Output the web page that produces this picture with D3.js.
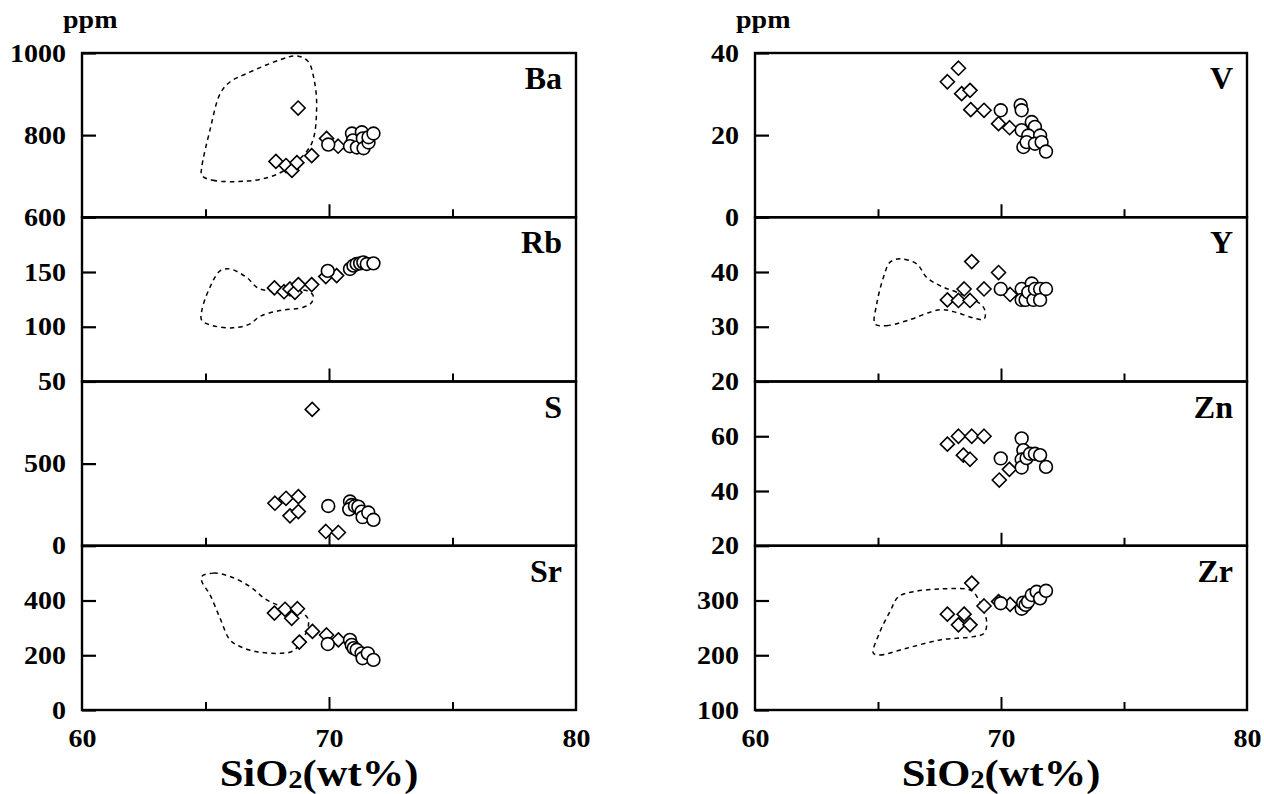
<!DOCTYPE html>
<html><head><meta charset="utf-8">
<script src="https://cdn.jsdelivr.net/npm/d3@7"></script>
<style>
body{margin:0;background:#fff}
text{font-family:"Liberation Serif","Times New Roman",serif;font-weight:bold;fill:#000}
</style>
</head><body>
<svg id="c" width="1264" height="794"></svg>
<script>
// ---------- data (SiO2 wt%, ppm) ----------
const xDomain = [60, 80];
const xMinorTicks = [65, 70, 75];
const xTickLabels = [60, 70, 80];
const xTitle = ["SiO", "2", "(wt%)"];

const panelNames = ["Ba", "Rb", "S", "Sr", "V", "Y", "Zn", "Zr"];
const yDomains = [[600,1000],[50,200],[0,1000],[0,600],[0,40],[20,50],[20,80],[100,400]];
const yTicks = [[600,800,1000],[50,100,150],[0,500],[0,200,400],[0,20,40],[20,30,40],[20,40,60],[100,200,300]];

const baDiamonds = [[68.75,866],[67.85,736],[68.26,726],[68.5,714],[68.7,733],[69.3,750],[69.9,792],[70.37,773]];
const baCircles = [[69.97,777],[70.93,804],[70.97,787],[70.85,773],[71.13,770],[71.33,807],[71.37,792],[71.4,768],[71.6,782],[71.6,795],[71.8,804]];
const baField = [[64.85,702],[65.3,690],[66.67,688],[67.6,698],[68.14,712],[68.6,730],[69.3,780],[69.5,869],[69.4,934],[69.16,979],[68.7,993],[68.0,983],[66.67,950],[66.0,930],[65.6,902],[65.18,812],[64.85,722]];

const rbDiamonds = [[67.79,135.5],[68.18,132],[68.42,134.5],[68.62,131.5],[68.76,138.5],[69.3,138.5],[69.87,145.8],[70.31,146.7]];
const rbCircles = [[69.95,151],[70.85,152.8],[70.99,155.8],[71.12,157.3],[71.26,157.9],[71.39,158.8],[71.53,157.3],[71.8,157.9]];
const rbField = [[64.85,105.7],[65.3,101],[66.13,99],[66.8,102.6],[67.2,109.3],[68.0,114.8],[68.96,117.8],[69.3,122.3],[69.36,128.4],[69.1,133],[67.2,134.5],[66.67,145],[65.99,152.8],[65.59,151],[65.18,136],[64.85,114.8]];

const sDiamonds = [[69.32,830],[67.81,259],[68.26,289],[68.76,299],[68.42,182],[68.76,208],[69.87,87],[70.38,81]];
const sCircles = [[69.97,242],[70.85,269],[70.92,248],[70.82,222],[71.05,242],[71.19,238],[71.32,208],[71.36,174],[71.59,202],[71.8,158]];

const srDiamonds = [[67.79,354],[68.22,368],[68.49,335],[68.72,370],[68.8,248],[69.33,287],[69.9,274],[70.38,256]];
const srCircles = [[69.95,241],[70.85,256],[70.92,238],[71.0,226],[71.12,220],[71.32,207],[71.36,189],[71.57,207],[71.8,183]];
const srField = [[64.85,488],[65.32,500],[65.99,488],[66.8,451],[67.48,402],[68.3,370],[69.1,341],[69.17,311],[68.96,262],[68.55,216],[68.02,207],[67.07,213],[66.4,232],[65.99,256],[65.59,335],[65.18,421],[64.85,470]];

const vDiamonds = [[68.27,36.3],[67.82,33],[68.4,30.1],[68.74,30.9],[68.77,26.2],[69.31,26.05],[69.9,22.8],[70.35,21.8]];
const vCircles = [[69.99,26.05],[70.8,27.3],[70.84,26.05],[71.25,23.2],[71.38,22],[70.84,21.2],[71.11,19.9],[71.59,19.9],[70.91,17.1],[71.04,18.3],[71.38,17.9],[71.65,18.3],[71.83,16.0]];

const yDiamonds = [[68.81,41.9],[69.9,39.9],[68.5,36.9],[69.31,36.9],[67.82,34.9],[68.27,34.8],[68.74,34.8],[70.37,35.9]];
const yCircles = [[69.99,36.9],[70.84,36.9],[71.25,37.9],[70.84,34.9],[71.0,34.9],[71.11,36.3],[71.32,34.9],[71.38,36.9],[71.59,36.9],[71.59,34.9],[71.83,36.9]];
const yField = [[64.88,30.5],[65.35,30.2],[66.17,31.1],[67.52,33.1],[68.2,32.6],[68.87,31.6],[69.31,31.4],[69.35,32.95],[69.15,34.2],[68.2,36.3],[67.52,37.5],[66.98,39.0],[66.57,41.5],[65.89,42.4],[65.49,41.8],[65.22,39.0],[64.95,34.2]];

const znDiamonds = [[67.82,57.1],[68.27,60],[68.81,60],[69.31,60],[68.47,53.1],[68.74,51.6],[70.34,47.9],[69.93,44]];
const znCircles = [[70.84,59.2],[69.99,51.9],[70.91,54.9],[70.84,51.5],[70.84,48.6],[71.04,52],[71.18,53.6],[71.38,53.6],[71.59,53.1],[71.83,48.8]];

const zrDiamonds = [[68.81,331.8],[69.31,290],[67.82,275],[68.5,275],[68.27,255.5],[68.74,255.5],[69.9,298],[70.37,293]];
const zrCircles = [[69.99,295],[70.84,285],[70.9,296],[71.0,292],[71.1,298],[71.25,310],[71.45,316],[71.59,304],[71.83,317.7]];
const zrField = [[64.81,203.7],[65.08,200.6],[66.17,212.9],[67.52,228],[68.87,234],[69.31,240],[69.42,258.6],[69.28,283],[68.87,316],[68.6,321],[67.52,321],[66.43,316],[65.83,307],[65.49,280],[65.08,243]];

const diamondSets = [baDiamonds, rbDiamonds, sDiamonds, srDiamonds, vDiamonds, yDiamonds, znDiamonds, zrDiamonds];
const circleSets = [baCircles, rbCircles, sCircles, srCircles, vCircles, yCircles, znCircles, zrCircles];
const fieldSets = [baField, rbField, null, srField, null, yField, null, zrField];

// ---------- layout ----------
const svg = d3.select("#c");
const colX = [[82, 576], [755, 1247]];
const titleX = [319, 1001];
const top0 = 53, ph = 164.25;
const SX = 1.12; // horizontal stretch of the bold serif labels

panelNames.forEach((name, i) => {
  const col = Math.floor(i / 4), row = i % 4;
  const [x0, x1] = colX[col];
  const y0 = top0 + row * ph, y1 = y0 + ph;
  const x = d3.scaleLinear().domain(xDomain).range([x0, x1]);
  const y = d3.scaleLinear().domain(yDomains[i]).range([y1, y0]);
  const g = svg.append("g");

  if (fieldSets[i]) {
    g.append("path").datum(fieldSets[i])
      .attr("d", d3.line().x(d => x(d[0])).y(d => y(d[1])).curve(d3.curveCatmullRomClosed.alpha(0.5)))
      .attr("fill", "none").attr("stroke", "#000").attr("stroke-width", 1.5)
      .attr("stroke-dasharray", "4.5,4");
  }

  // y axis
  const ya = g.append("g").attr("transform", `translate(${x0},0)`)
    .call(d3.axisLeft(y).tickValues(yTicks[i]).tickSize(-14).tickPadding(16).tickFormat(d3.format("d")));
  ya.select(".domain").remove();
  ya.selectAll("line").attr("stroke", "#000").attr("stroke-width", 2.2);
  ya.selectAll("text").attr("font-size", 25).attr("font-family", null)
    .attr("x", -16 / SX).attr("transform", `scale(${SX},1)`);

  // x ticks (inward, at panel bottom)
  const xa = g.append("g").attr("transform", `translate(0,${y1})`)
    .call(d3.axisBottom(x).tickValues(xMinorTicks).tickSize(-8).tickFormat(""));
  xa.select(".domain").remove();
  xa.selectAll("line").attr("stroke", "#000").attr("stroke-width", 2)
    .filter(d => d === 70).attr("y2", -13);

  // frame
  g.append("rect").attr("x", x0).attr("y", y0).attr("width", x1 - x0).attr("height", ph)
    .attr("fill", "none").attr("stroke", "#000").attr("stroke-width", 2.4);

  // markers
  g.append("g").selectAll("path").data(diamondSets[i]).join("path")
    .attr("transform", d => `translate(${x(d[0])},${y(d[1])})`)
    .attr("d", "M0,-7L7,0L0,7L-7,0Z")
    .attr("fill", "#fff").attr("stroke", "#000").attr("stroke-width", 1.6);
  g.append("g").selectAll("circle").data(circleSets[i]).join("circle")
    .attr("cx", d => x(d[0])).attr("cy", d => y(d[1])).attr("r", 6.4)
    .attr("fill", "#fff").attr("stroke", "#000").attr("stroke-width", 1.6);

  // panel label
  g.append("text").attr("x", x1 - 14).attr("y", y0 + 36).attr("text-anchor", "end")
    .attr("font-size", 32).text(name);

  if (row === 0) {
    g.append("text").attr("transform", `translate(${x0 - 19},28) scale(1.12,1)`)
      .attr("font-size", 25).text("ppm");
  }
  if (row === 3) {
    const xl = g.append("g").attr("transform", `translate(0,${y1})`)
      .call(d3.axisBottom(x).tickValues(xTickLabels).tickSize(0).tickPadding(19).tickFormat(d3.format("d")));
    xl.select(".domain").remove();
    xl.selectAll("text").attr("font-size", 25).attr("font-family", null)
      .attr("transform", `scale(${SX},1)`);
    const t = g.append("text").attr("transform", `translate(${titleX[col]},786) scale(1.15,1)`)
      .attr("text-anchor", "middle").attr("font-size", 37);
    t.append("tspan").text(xTitle[0]);
    t.append("tspan").attr("font-size", 25).attr("dy", 2).text(xTitle[1]);
    t.append("tspan").attr("dy", -2).text(xTitle[2]);
  }
});
</script>
</body></html>
